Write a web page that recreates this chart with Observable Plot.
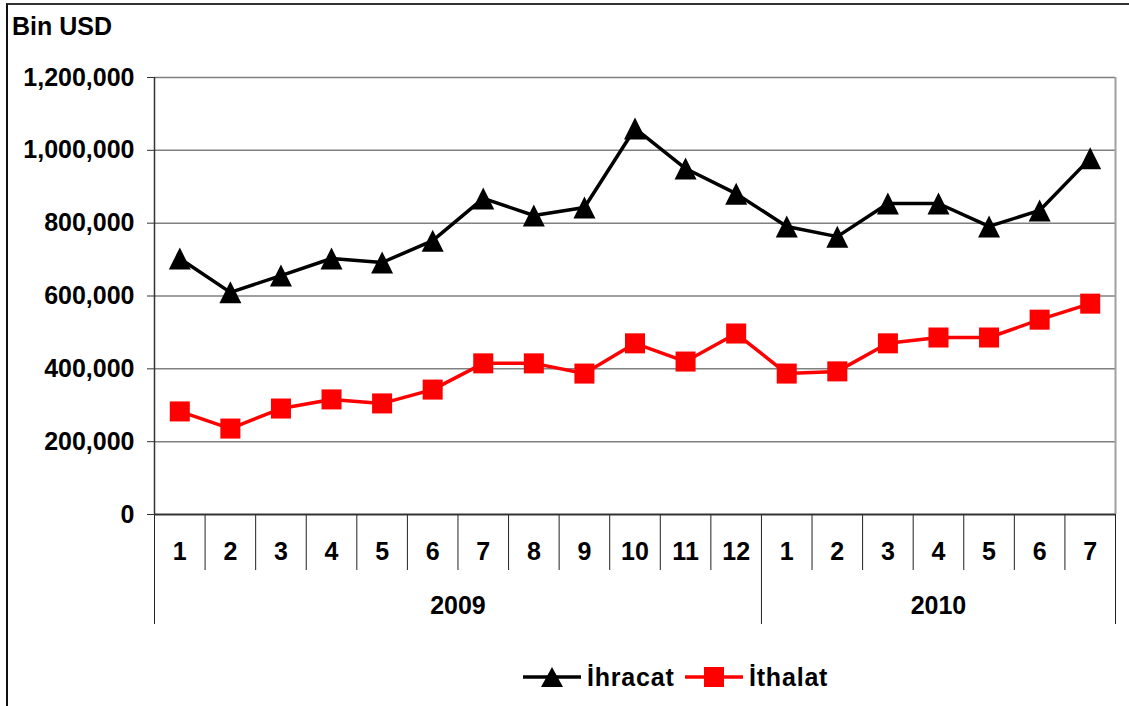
<!DOCTYPE html>
<html>
<head>
<meta charset="utf-8">
<script src="https://cdn.jsdelivr.net/npm/d3@7"></script>
<script src="https://cdn.jsdelivr.net/npm/@observablehq/plot@0.6"></script>
<style>
  html, body { margin: 0; padding: 0; background: #fff; }
  body { font-family: "Liberation Sans", Arial, Helvetica, sans-serif; }
  #wrap { position: relative; width: 1129px; height: 706px; overflow: hidden; background: #fff; }
  #frame { position: absolute; left: 6px; top: 3px; width: 1200px; height: 800px;
           border-top: 2px solid #333; border-left: 2px solid #111; box-sizing: border-box; }
  #ylabel { position: absolute; left: 12px; top: 14px; font-size: 25px; line-height: 24px;
            font-weight: bold; color: #000; }
  #chart { position: absolute; left: 0; top: 0; }
  #legend { position: absolute; left: 0; top: 640px; }
</style>
</head>
<body>
<div id="wrap">
  <div id="frame"></div>
  <div id="chart"></div>
  <div id="ylabel">Bin USD</div>
  <svg id="legend" width="1129" height="66"></svg>
</div>
<script>
// ---- data ----
const months = ["1","2","3","4","5","6","7","8","9","10","11","12","1","2","3","4","5","6","7"];
const years = ["2009", "2010"];
const monthsPerYear = [12, 7];
const ihracat = [703000, 610000, 656000, 703000, 692000, 752000, 868000, 821000, 843000, 1060000, 950000, 881000,
                 791000, 763000, 854000, 854000, 791000, 835000, 978000];
const ithalat = [283000, 236000, 291000, 316000, 305000, 343000, 415000, 415000, 387000, 470000, 420000, 497000,
                 387000, 393000, 470000, 486000, 486000, 535000, 579000];
const yTicks = [0, 200000, 400000, 600000, 800000, 1000000, 1200000];
const seriesNames = ["İhracat", "İthalat"];

// ---- derived tables ----
const n = months.length;
const pts = months.map((m, i) => ({i, m, exp: ihracat[i], imp: ithalat[i]}));
const groupEdges = [0];
monthsPerYear.forEach(c => groupEdges.push(groupEdges[groupEdges.length - 1] + c));
const groupSet = new Set(groupEdges);
const innerEdges = d3.range(1, n).filter(e => !groupSet.has(e));
const yearTable = years.map((y, k) => ({y, mid: (groupEdges[k] + groupEdges[k + 1]) / 2}));

const triangle = {
  draw(context, size) {
    const r = Math.sqrt(size / Math.PI);
    context.moveTo(0, -r);
    context.lineTo(r, r);
    context.lineTo(-r, r);
    context.closePath();
  }
};

const FS = 25;
const chart = Plot.plot({
  width: 1129,
  height: 640,
  marginLeft: 154,
  marginRight: 14,
  marginTop: 77,
  marginBottom: 126,
  style: {fontFamily: '"Liberation Sans", Arial, Helvetica, sans-serif', background: "transparent", overflow: "visible"},
  x: {domain: [0, n], axis: null},
  y: {domain: [0, 1200000], axis: null},
  marks: [
    Plot.ruleY(yTicks.slice(1), {stroke: "#808080", strokeWidth: 1.5}),
    Plot.ruleX([n], {stroke: "#a0a0a0", strokeWidth: 2}),
    Plot.axisY({ticks: yTicks, tickFormat: d3.format(","), tickSize: 7, tickPadding: 13,
                fontSize: FS, fontWeight: "bold", label: null, stroke: "#333", fill: "#000"}),
    // category separators
    Plot.ruleX(innerEdges, {y1: 0, y2: 0, insetBottom: -56, stroke: "#222", strokeWidth: 1}),
    Plot.ruleX(groupEdges, {y1: 0, y2: 0, insetBottom: -110, stroke: "#222", strokeWidth: 1}),
    // axis lines
    Plot.ruleX([0], {stroke: "#333", strokeWidth: 1.5}),
    Plot.ruleY([0], {stroke: "#333", strokeWidth: 2}),
    // labels
    Plot.text(pts, {x: d => d.i + 0.5, y: () => 0, text: "m", dy: 37, fontSize: FS, fontWeight: "bold", fill: "#000"}),
    Plot.text(yearTable, {x: "mid", y: () => 0, text: "y", dy: 91, fontSize: FS, fontWeight: "bold", fill: "#000"}),
    // series
    Plot.line(pts, {x: d => d.i + 0.5, y: "exp", stroke: "#000", strokeWidth: 3.5}),
    Plot.dot(pts, {x: d => d.i + 0.5, y: "exp", symbol: triangle, r: 11, fill: "#000", stroke: "none"}),
    Plot.line(pts, {x: d => d.i + 0.5, y: "imp", stroke: "#ff0000", strokeWidth: 3.5}),
    Plot.dot(pts, {x: d => d.i + 0.5, y: "imp", symbol: "square", r: 11.3, fill: "#ff0000", stroke: "none"})
  ]
});
document.getElementById("chart").appendChild(chart);

// ---- legend ----
const lg = d3.select("#legend");
const items = [
  {name: seriesNames[0], color: "#000", sym: "tri", x: 523},
  {name: seriesNames[1], color: "#ff0000", sym: "sq", x: 685}
];
items.forEach(it => {
  const g = lg.append("g").attr("transform", `translate(${it.x},37)`);
  g.append("line").attr("x1", 0).attr("x2", 58).attr("y1", 0).attr("y2", 0)
    .attr("stroke", it.color).attr("stroke-width", 3.5);
  if (it.sym === "tri") {
    g.append("path").attr("d", "M29,-10L40,10L18,10Z").attr("fill", it.color);
  } else {
    g.append("rect").attr("x", 19).attr("y", -10).attr("width", 20).attr("height", 20).attr("fill", it.color);
  }
  g.append("text").attr("x", 64).attr("y", 9).text(it.name)
    .attr("font-size", FS).attr("font-weight", "bold").attr("letter-spacing", "0.8px")
    .attr("font-family", '"Liberation Sans", Arial, sans-serif').attr("fill", "#000");
});
</script>
</body>
</html>
